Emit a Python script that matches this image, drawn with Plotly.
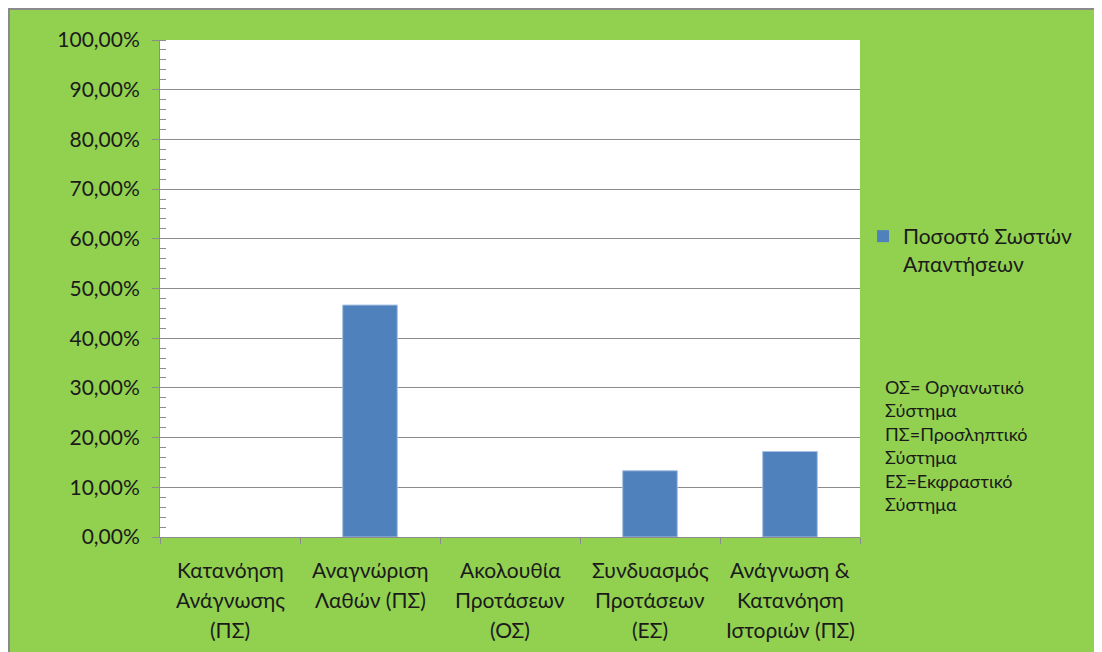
import plotly.graph_objects as go

# chart data
categories = [
    "Κατανόηση\nΑνάγνωσης\n(ΠΣ)",
    "Αναγνώριση\nΛαθών (ΠΣ)",
    "Ακολουθία\nΠροτάσεων\n(ΟΣ)",
    "Συνδυασμός\nΠροτάσεων\n(ΕΣ)",
    "Ανάγνωση &\nΚατανόηση\nΙστοριών (ΠΣ)",
]
values = [0.0, 0.4667, 0.0, 0.1333, 0.172]
series_name = "Ποσοστό Σωστών<br>Απαντήσεων"
note_lines = [
    "ΟΣ= Οργανωτικό", "Σύστημα",
    "ΠΣ=Προσληπτικό", "Σύστημα",
    "ΕΣ=Εκφραστικό", "Σύστημα",
]

W, H = 1102, 652
L, R, T, B = 152, 250, 32, 123
pw, ph = W - L - R, H - T - B
OFF = 8  # page body margin
GREEN = "#92d050"
GREY = "#8c8c8c"
FONT = "Lato, Carlito, 'Liberation Sans', sans-serif"


def px_x(p):
    # page pixel -> paper x
    return (p - OFF - L) / pw


def px_y(p):
    # page pixel -> paper y
    return (H - B - (p - OFF)) / ph


cat_keys = [c.replace("\n", " ") for c in categories]

fig = go.Figure()
fig.add_trace(go.Bar(
    x=cat_keys,
    y=values,
    name=series_name,
    width=0.39,
    marker=dict(color="#4f81bd",
                line=dict(color="#a9c1e0", width=[1 if v > 0 else 0 for v in values])),
    showlegend=True,
))

# category labels, one annotation per line so the line spacing matches
for key, label in zip(cat_keys, categories):
    for i, line in enumerate(label.split("\n")):
        fig.add_annotation(
            x=key, xref="x", y=0, yref="paper",
            text=line, showarrow=False,
            yanchor="middle", yshift=-32 - 30 * i,
            font=dict(family=FONT, size=21, color="#1a1a1a"),
        )

fig.add_annotation(
    x=px_x(883), xref="paper", y=px_y(374), yref="paper",
    xanchor="left", yanchor="top", align="left",
    text="<br>".join(note_lines), showarrow=False,
    font=dict(family=FONT, size=18, color="#1a1a1a"),
)

# grey frame on top/left edges
shapes = [
    dict(type="rect", xref="paper", yref="paper", x0=px_x(8), x1=px_x(W + 10),
         y0=px_y(8), y1=px_y(10), fillcolor="#8a8a8a", line=dict(width=0), layer="below"),
    dict(type="rect", xref="paper", yref="paper", x0=px_x(8), x1=px_x(10),
         y0=px_y(8), y1=px_y(H + 10), fillcolor="#8a8a8a", line=dict(width=0), layer="below"),
]

fig.update_layout(
    width=W, height=H,
    margin=dict(l=L, r=R, t=T, b=B, pad=0),
    paper_bgcolor=GREEN,
    plot_bgcolor="white",
    separators=",.",
    font=dict(family=FONT, color="#1a1a1a"),
    shapes=shapes,
    legend=dict(
        x=px_x(863), y=px_y(216), xanchor="left", yanchor="top",
        bgcolor="rgba(0,0,0,0)", valign="top",
        font=dict(family=FONT, size=21, color="#1a1a1a"),
    ),
)

fig.update_xaxes(
    type="category",
    showticklabels=False,
    showline=True, linecolor=GREY, linewidth=1,
    ticks="outside", tickson="boundaries", ticklen=6, tickcolor=GREY,
    showgrid=False,
)
fig.update_yaxes(
    range=[0, 1], dtick=0.1, tickformat=".2%",
    showline=True, linecolor=GREY, linewidth=1,
    ticks="outside", ticklen=7, tickcolor=GREY,
    showgrid=True, gridcolor=GREY, gridwidth=1,
    zeroline=False,
    tickfont=dict(family=FONT, size=21, color="#1a1a1a"),
    ticklabelstandoff=8,
    minor=dict(dtick=0.02, ticks="inside", ticklen=6, tickcolor=GREY, showgrid=False),
)

fig.write_html("out.html")
